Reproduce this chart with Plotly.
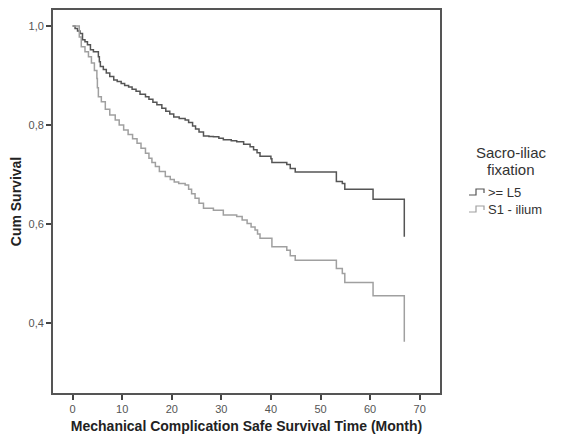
import plotly.graph_objects as go

# >= L5 group: step times (months) and cumulative survival
l5_time = [0, 0.5, 1.0, 1.5, 2.0, 2.5, 3.0, 3.6, 4.2, 5.2, 5.4, 5.6, 6.2, 6.8, 7.5, 8.3,
           9.0, 9.8, 10.5, 11.3, 12.0, 12.8, 13.6, 14.7, 15.4, 16.2, 17.0, 18.0, 18.8,
           19.6, 20.4, 21.5, 22.7, 23.4, 24.2, 24.8, 25.5, 26.4, 27.5, 28.4, 29.5, 30.4,
           32.0, 33.1, 34.5, 35.8, 36.5, 37.2, 37.8, 40.0, 40.2, 43.2, 43.9, 44.9, 53.2,
           54.4, 54.9, 60.6, 66.9]
l5_surv = [1.0, 0.995, 0.99, 0.985, 0.972, 0.968, 0.962, 0.952, 0.948, 0.938, 0.928, 0.918,
           0.912, 0.905, 0.898, 0.891, 0.888, 0.884, 0.880, 0.877, 0.872, 0.868, 0.862,
           0.857, 0.852, 0.846, 0.841, 0.834, 0.828, 0.822, 0.816, 0.813, 0.810, 0.805,
           0.798, 0.792, 0.786, 0.778, 0.777, 0.776, 0.773, 0.770, 0.768, 0.766, 0.761,
           0.756, 0.750, 0.744, 0.737, 0.732, 0.724, 0.720, 0.712, 0.705, 0.686, 0.682,
           0.670, 0.650, 0.574]

# S1 - ilium group
s1_time = [0, 1.35, 1.75, 2.5, 3.2, 3.8, 4.4, 4.9, 5.0, 5.2, 5.8, 6.6, 7.5, 8.6, 9.4, 10.3,
           11.2, 12.1, 13.0, 13.8, 14.7, 15.4, 16.0, 16.7, 17.5, 18.7, 19.7, 20.5, 21.4,
           22.7, 23.4, 24.0, 24.7, 25.5, 26.4, 28.4, 30.4, 33.1, 34.2, 35.2, 36.0, 36.8,
           37.3, 37.8, 40.2, 43.2, 43.9, 44.9, 53.2, 54.4, 54.9, 60.6, 66.9]
s1_surv = [1.0, 0.978, 0.958, 0.948, 0.938, 0.925, 0.910, 0.894, 0.875, 0.857, 0.847,
           0.832, 0.820, 0.810, 0.800, 0.790, 0.781, 0.772, 0.763, 0.753, 0.743, 0.733,
           0.724, 0.716, 0.706, 0.696, 0.690, 0.685, 0.682, 0.679, 0.670, 0.661, 0.652,
           0.642, 0.632, 0.628, 0.618, 0.615, 0.608, 0.601, 0.594, 0.588, 0.580, 0.571,
           0.554, 0.547, 0.536, 0.527, 0.510, 0.500, 0.482, 0.455, 0.362]

series_names = [">= L5", "S1 - ilium"]
series_colors = ["#555555", "#a0a0a0"]
x_ticks = [0, 10, 20, 30, 40, 50, 60, 70]
y_ticks = [0.4, 0.6, 0.8, 1.0]
y_tick_labels = ["0,4", "0,6", "0,8", "1,0"]
legend_title_lines = ["Sacro-iliac", "fixation"]

font_family = "Liberation Sans, Arial, sans-serif"

# The page body adds an 8px margin, so the figure is 8px smaller than the window.
W, H = 555, 431
ML, MR, MT, MB = 45, 123, 2, 46
PW, PH = W - ML - MR, H - MT - MB
OFF = 8


def px_to_paper(px, py):
    """Convert window pixel coords to paper coords (legend decoration only)."""
    return (px - OFF - ML) / PW, (H - MB - (py - OFF)) / PH


fig = go.Figure()
fig.add_trace(go.Scatter(x=l5_time, y=l5_surv, mode="lines", line_shape="hv",
                         line=dict(color=series_colors[0], width=1.5),
                         name=series_names[0], showlegend=False))
fig.add_trace(go.Scatter(x=s1_time, y=s1_surv, mode="lines", line_shape="hv",
                         line=dict(color=series_colors[1], width=1.5),
                         name=series_names[1], showlegend=False))

annotations = []
shapes = []
# legend title
for txt, py in zip(legend_title_lines, [152, 169]):
    ax, ay = px_to_paper(511, py)
    annotations.append(dict(text=txt, xref="paper", yref="paper", x=ax, y=ay,
                            xanchor="center", yanchor="middle", showarrow=False,
                            font=dict(size=15, color="#333333", family=font_family)))
# legend items with step-shaped icons
for name, color, cy in zip(series_names, series_colors, [192, 209]):
    tx, ty = px_to_paper(486, cy)
    annotations.append(dict(text=name, xref="paper", yref="paper", x=tx, y=ty,
                            xanchor="left", yanchor="middle", showarrow=False,
                            font=dict(size=13, color="#333333", family=font_family)))
    pts = [px_to_paper(x, y) for x, y in
           [(469, cy + 3), (476, cy + 3), (476, cy - 3), (484, cy - 3), (484, cy + 1)]]
    path = "M " + " L ".join(f"{a:.5f},{b:.5f}" for a, b in pts)
    shapes.append(dict(type="path", xref="paper", yref="paper", path=path,
                       line=dict(color=color, width=1.2)))

fig.update_layout(
    width=W, height=H,
    margin=dict(l=ML, r=MR, t=MT, b=MB, autoexpand=False),
    paper_bgcolor="white", plot_bgcolor="white",
    font=dict(family=font_family, color="#444444", size=11),
    showlegend=False,
    annotations=annotations,
    shapes=shapes,
    xaxis=dict(
        range=[-3.95, 74.1], tickvals=x_ticks, ticks="outside", ticklen=5,
        tickcolor="#444444", tickwidth=1.5, automargin=False,
        showline=True, linecolor="#555555", linewidth=1.8, mirror=True,
        showgrid=False, zeroline=False,
        title=dict(text="<b>Mechanical Complication Safe Survival Time (Month)</b>",
                   font=dict(size=14, color="#222222"), standoff=7),
        tickfont=dict(size=11, color="#555555"),
    ),
    yaxis=dict(
        range=[0.2586, 1.0323], tickvals=y_ticks, ticktext=y_tick_labels,
        ticks="outside", ticklen=5, tickcolor="#444444", tickwidth=1.5,
        automargin=False,
        showline=True, linecolor="#555555", linewidth=1.8, mirror=True,
        showgrid=False, zeroline=False,
        title=dict(text="<b>Cum Survival</b>", font=dict(size=14, color="#222222"),
                   standoff=8),
        tickfont=dict(size=11, color="#555555"),
    ),
)

fig.write_html("out.html")
